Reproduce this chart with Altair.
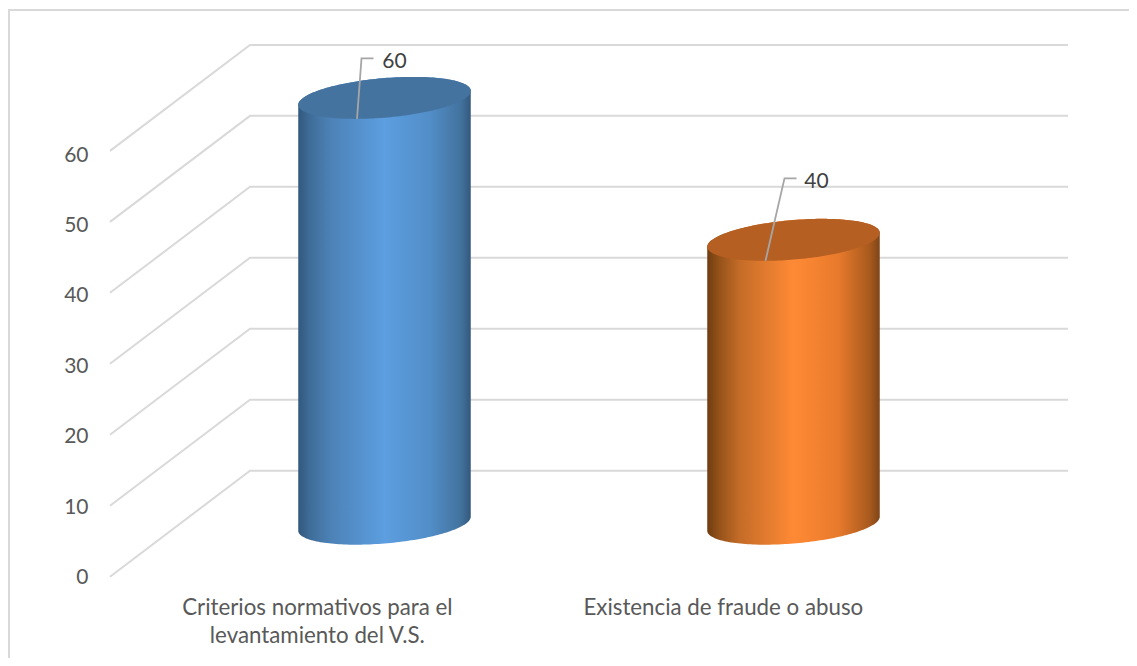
import math
import altair as alt
import pandas as pd

# ---- values
categories = ["Criterios normativos para el\nlevantamiento del V.S.", "Existencia de fraude o abuso"]
values = [60, 40]
ticks = [0, 10, 20, 30, 40, 50, 60]
stop_offsets = [0, 0.07, 0.19, 0.5, 0.76, 0.94, 1]
blue_stops = ["#32587d", "#3f6d99", "#4d82b7", "#5c9ee0", "#528ec8", "#43739f", "#33597d"]
orange_stops = ["#6f3d10", "#95521a", "#c56c28", "#ff8a35", "#e87a2c", "#a85a1e", "#7f4518"]
top_colors = ["#44739f", "#b55f22"]

# ---- geometry of the 3-D frame
PX_X = 409.0            # pixels per category
PX_Y = 7.097            # pixels per value unit
DEPTH_X = 140 / PX_X    # floor depth in category units
DEPTH_Y = 106 / PX_Y    # floor depth in value units
HALF_W = 86.25 / PX_X
ELL_B = 19.8 / PX_Y
ELL_K = 7.0 / PX_Y
GRID = "#d9d9d9"
PLOT_H = 570

x_scale = alt.Scale(domain=[-DEPTH_X, 2], nice=False, zero=False)
y_min = -1.3 / PX_Y
y_scale = alt.Scale(domain=[y_min, y_min + PLOT_H / PX_Y], nice=False, zero=False)
X = lambda f: alt.X(f, type="quantitative", scale=x_scale, axis=None)
Y = lambda f: alt.Y(f, type="quantitative", scale=y_scale, axis=None)

# grid: side wall and back wall
grid_rows = []
for t in ticks:
    grid_rows += [
        {"t": t, "x": -DEPTH_X, "y": t},
        {"t": t, "x": 0, "y": t + DEPTH_Y},
        {"t": t, "x": 2, "y": t + DEPTH_Y},
    ]
grid = alt.Chart(pd.DataFrame(grid_rows)).mark_line(color=GRID, strokeWidth=2).encode(
    x=X("x"), y=Y("y"), detail="t:N", order="x:Q"
)


def outline(i, value):
    """Upper and lower edges of the two end caps of one cylinder."""
    cx = i + 0.5 - DEPTH_X / 2
    base = DEPTH_Y / 2
    rows = []
    for d in range(0, 181, 2):
        c = math.cos(math.radians(180 - d))
        s = math.sin(math.radians(180 - d))
        rows.append({
            "x": cx + HALF_W * c,
            "top_up": value + base + ELL_B * s + ELL_K * c,
            "top_lo": value + base - ELL_B * s + ELL_K * c,
            "bot_lo": base - ELL_B * s + ELL_K * c,
        })
    return pd.DataFrame(rows)


def gradient(stops):
    return alt.Gradient(
        gradient="linear", x1=0, x2=1, y1=0, y2=0,
        stops=[alt.GradientStop(offset=o, color=c) for o, c in zip(stop_offsets, stops)],
    )


layers = [grid]
for i, v in enumerate(values):
    df = outline(i, v)
    stops = [blue_stops, orange_stops][i]
    layers.append(alt.Chart(df).mark_area(fill=gradient(stops), line=False, opacity=1).encode(
        x=X("x"), y=Y("top_up"), y2="bot_lo:Q"))
    layers.append(alt.Chart(df).mark_area(color=top_colors[i], opacity=1).encode(
        x=X("x"), y=Y("top_up"), y2="top_lo:Q"))

# leader lines, as offsets from the top of each column
LEAD = [[(-27.5, 21), (-23, -39.5), (-11, -39.5)], [(-28, 21), (-9, -61.5), (3, -61.5)]]
LABEL = [(10, -36), (23, -58)]
lead_rows, label_rows = [], []
for i, v in enumerate(values):
    cx = i + 0.5 - DEPTH_X / 2
    cy = v + DEPTH_Y / 2
    for k, (dx, dy) in enumerate(LEAD[i]):
        lead_rows.append({"c": i, "k": k, "x": cx + dx / PX_X, "y": cy - dy / PX_Y})
    label_rows.append({"x": cx + LABEL[i][0] / PX_X, "y": cy - LABEL[i][1] / PX_Y, "text": str(v)})
layers.append(alt.Chart(pd.DataFrame(lead_rows)).mark_line(color="#a6a6a6", strokeWidth=1.8).encode(
    x=X("x"), y=Y("y"), detail="c:N", order="k:Q"))
layers.append(alt.Chart(pd.DataFrame(label_rows)).mark_text(
    font="Lato", fontSize=21, color="#404040", baseline="middle", align="center").encode(
    x=X("x"), y=Y("y"), text="text:N"))

# category labels
cat_df = pd.DataFrame({"x": [0.507 - DEPTH_X, 1.4995 - DEPTH_X], "text": categories})
layers.append(alt.Chart(cat_df).mark_text(
    font="Lato", fontSize=22.3, color="#595959", baseline="top", align="center",
    lineBreak="\n", lineHeight=28).encode(
    x=X("x"), y=alt.value(589), text="text:N"))

# frame
one = pd.DataFrame({"a": [0]})
layers.append(alt.Chart(one).mark_rule(color=GRID, strokeWidth=2).encode(
    x=alt.value(-101), y=alt.value(2), y2=alt.value(650)))
layers.append(alt.Chart(one).mark_rule(color=GRID, strokeWidth=2).encode(
    y=alt.value(2), x=alt.value(-102), x2=alt.value(1019)))

main = alt.layer(*layers)

# value axis on its own scale
axis_layer = alt.Chart(pd.DataFrame({"v": ticks})).mark_rule(opacity=0).encode(
    y=alt.Y("v:Q",
            scale=alt.Scale(domain=[(577.5 - 578) / 7.04, (577.5 - 8) / 7.04], nice=False, zero=False),
            axis=alt.Axis(orient="left", values=ticks, grid=False, domain=False, ticks=False,
                          labelPadding=22, labelFont="Lato", labelFontSize=21, labelColor="#595959",
                          title=None))
)

chart = alt.layer(main, axis_layer).resolve_scale(y="independent").properties(
    width=958, height=PLOT_H,
    padding={"left": 102, "top": 0, "right": 61, "bottom": 80},
    autosize=alt.AutoSizeParams(type="none"),
    background="white",
).configure_view(stroke=None)

chart.save("out.html", embed_options={"renderer": "svg", "actions": False})
